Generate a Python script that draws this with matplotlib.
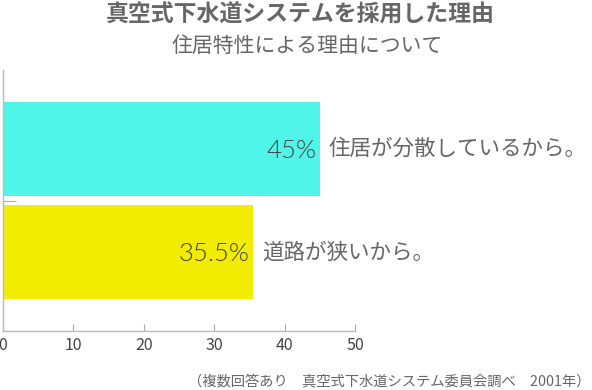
import matplotlib
matplotlib.use("Agg")
import matplotlib.pyplot as plt

plt.rcParams['font.family'] = ['Noto Sans CJK JP', 'DejaVu Sans']

title = "真空式下水道システムを採用した理由"
subtitle = "住居特性による理由について"
categories = ["住居が分散しているから。", "道路が狭いから。"]
values = [45, 35.5]
value_labels = ["45%", "35.5%"]
colors = ["#4ef5e8", "#f2ec00"]
xticks = [0, 10, 20, 30, 40, 50]
footnote = "（複数回答あり　真空式下水道システム委員会調べ　2001年）"

W, H = 592, 390
fig = plt.figure(figsize=(W / 100, H / 100), dpi=100)
ax = fig.add_axes([3 / W, 1 - 331 / H, (355 - 3) / W, (331 - 70) / H])

pos = list(range(len(categories)))
ax.barh(pos, values, height=0.904, color=colors, edgecolor='none')
ax.set_xlim(0, 50)
ax.set_ylim(1.76, -0.76)

gray = "#666666"
for p, v, vl, c in zip(pos, values, value_labels, categories):
    ax.text(v - 0.5, p + 0.02, vl, ha='right', va='center', fontsize=18.5,
            color="#444444", family=['Lato', 'DejaVu Sans'], fontweight=300)
    ax.text(v + 1.3, p, c, ha='left', va='center', fontsize=15.5, color=gray)

ax.set_xticks(xticks)
ax.set_xticklabels([str(t) for t in xticks], fontsize=11.5, color="#444444")
ax.set_yticks([0.5])
ax.set_yticklabels([""])
ax.tick_params(axis='x', direction='in', length=5, color="#aaaaaa", pad=4)
ax.tick_params(axis='y', direction='in', length=9, color="#aaaaaa")
for s in ['top', 'right']:
    ax.spines[s].set_visible(False)
for s in ['left', 'bottom']:
    ax.spines[s].set_color("#bbbbbb")
    ax.spines[s].set_linewidth(1)

fig.text(300 / W, 1 - 15 / H, title, ha='center', va='center', fontsize=16.5,
         fontweight='bold', color=gray)
fig.text(307 / W, 1 - 46 / H, subtitle, ha='center', va='center', fontsize=15,
         color=gray)
fig.text(590 / W, 1 - 381 / H, footnote, ha='right', va='center', fontsize=10.3,
         color=gray)

fig.savefig("out.png", dpi=100)
